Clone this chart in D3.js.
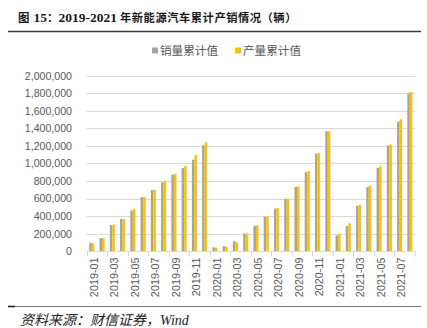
<!DOCTYPE html>
<html><head><meta charset="utf-8">
<script src="https://cdn.jsdelivr.net/npm/d3@7"></script>
<style>body{margin:0;background:#fff}svg{display:block}</style>
</head><body>
<svg id="c" width="427" height="328"></svg>
<script>
const months = ["2019-01","2019-02","2019-03","2019-04","2019-05","2019-06","2019-07","2019-08","2019-09","2019-10","2019-11","2019-12",
"2020-01","2020-02","2020-03","2020-04","2020-05","2020-06","2020-07","2020-08","2020-09","2020-10","2020-11","2020-12",
"2021-01","2021-02","2021-03","2021-04","2021-05","2021-06","2021-07","2021-08"];
const salesCum = [96000,149000,299000,368000,464000,617000,698000,787000,872000,947000,1043000,1206000,
44000,57000,114000,202000,289000,393000,486000,596000,732000,900000,1112000,1367000,
179000,287000,515000,730000,950000,1206000,1478000,1799000];
const prodCum = [91000,150000,304000,368000,480000,614000,698000,799000,882000,973000,1095000,1242000,
40000,50000,101000,202000,293000,397000,492000,599000,739000,913000,1119000,1366000,
199000,318000,528000,748000,966000,1215000,1504000,1814000];
const seriesNames = ["销量累计值","产量累计值"];
const seriesColors = ["#A5A5A5","#FFC000"];
const yTicks = [0,200000,400000,600000,800000,1000000,1200000,1400000,1600000,1800000,2000000];
const xLabelMonths = months.filter((d,i)=>i%2===0);

const svg = d3.select("#c");
const L = 86.7, R = 415, T = 75.7, B = 251.2;
const x = d3.scaleBand().domain(months).range([L,R]).paddingInner(0.5).paddingOuter(0.25);
const xs = d3.scaleBand().domain([0,1]).range([0,x.bandwidth()]);
const y = d3.scaleLinear().domain([0,2000000]).range([B,T]);
const step = x.step();

// title
const tt = svg.append("text").attr("x",18).attr("y",22)
  .attr("font-family","'Liberation Serif','Noto Sans CJK SC',serif").attr("font-weight","bold")
  .attr("fill","#1a1a1a");
const cjk = "'Noto Sans CJK SC',sans-serif";
tt.append("tspan").attr("font-family",cjk).attr("font-size",11.5).text("图");
tt.append("tspan").attr("font-size",13.5).attr("dx",4).text("15");
tt.append("tspan").attr("font-family",cjk).attr("font-size",11.5).text("：");
tt.append("tspan").attr("font-size",13.5).text("2019-2021");
tt.append("tspan").attr("font-family",cjk).attr("font-size",11.3).attr("letter-spacing",0.5).attr("dx",3)
  .text("年新能源汽车累计产销情况（辆）");
svg.append("line").attr("x1",8).attr("x2",421).attr("y1",31.5).attr("y2",31.5)
  .attr("stroke","#3a3a3a").attr("stroke-width",1.6);

// legend
const lg = svg.append("g").attr("font-family","'Noto Sans CJK SC',sans-serif").attr("font-size",11.6).attr("fill","#595959");
[[152,0],[235,1]].forEach(([lx,i])=>{
  lg.append("rect").attr("x",lx).attr("y",47.5).attr("width",6).attr("height",6).attr("fill",seriesColors[i]);
  lg.append("text").attr("x",lx+8).attr("y",55).text(seriesNames[i]);
});

// grid
svg.append("g").selectAll("line").data(yTicks.slice(1)).join("line")
  .attr("x1",L).attr("x2",R).attr("y1",d=>Math.round(y(d))+0.5).attr("y2",d=>Math.round(y(d))+0.5)
  .attr("stroke","#D9D9D9").attr("stroke-width",1);

// y axis
const yAxis = d3.axisLeft(y).tickValues(yTicks).tickSize(0).tickPadding(0)
  .tickFormat(d3.format(","));
const yg = svg.append("g").attr("transform",`translate(${72},0)`).call(yAxis);
yg.select(".domain").remove();
yg.selectAll("text").attr("font-family","'Liberation Sans',Arial,sans-serif").attr("font-size",10.6).attr("fill","#595959");

// bars
const bars = svg.append("g");
[salesCum, prodCum].forEach((vals,si)=>{
  bars.append("g").selectAll("rect").data(vals).join("rect")
    .attr("x",(d,i)=>x(months[i])+xs(si))
    .attr("width",xs.bandwidth())
    .attr("y",d=>y(d)).attr("height",d=>B-y(d))
    .attr("fill",seriesColors[si]);
});

// x axis
const base = Math.round(B)+0.5;
svg.append("line").attr("x1",L).attr("x2",R).attr("y1",base).attr("y2",base).attr("stroke","#D9D9D9");
svg.append("g").selectAll("line").data(d3.range(0,months.length+1,2)).join("line")
  .attr("x1",i=>Math.round(L+i*step)+0.5).attr("x2",i=>Math.round(L+i*step)+0.5)
  .attr("y1",base).attr("y2",base+5).attr("stroke","#D9D9D9");
svg.append("g").selectAll("text").data(xLabelMonths).join("text")
  .attr("transform",d=>`translate(${x(d)+x.bandwidth()/2+2},${base+6}) rotate(-90)`)
  .attr("text-anchor","end").attr("dy","0.35em")
  .attr("font-family","'Liberation Sans',Arial,sans-serif").attr("font-size",10.8).attr("fill","#595959")
  .text(d=>d);

// footer
svg.append("line").attr("x1",8).attr("x2",421).attr("y1",306.5).attr("y2",306.5).attr("stroke","#555").attr("stroke-width",0.8);
svg.append("line").attr("x1",8).attr("x2",15).attr("y1",306.5).attr("y2",306.5).attr("stroke","#222").attr("stroke-width",1.6);
svg.append("text").attr("x",20).attr("y",325)
  .attr("font-family","'Liberation Serif','Noto Sans CJK SC',serif").attr("font-style","italic")
  .attr("font-size",14).attr("fill","#222")
  .text("资料来源：财信证券，Wind");
</script>
</body></html>
